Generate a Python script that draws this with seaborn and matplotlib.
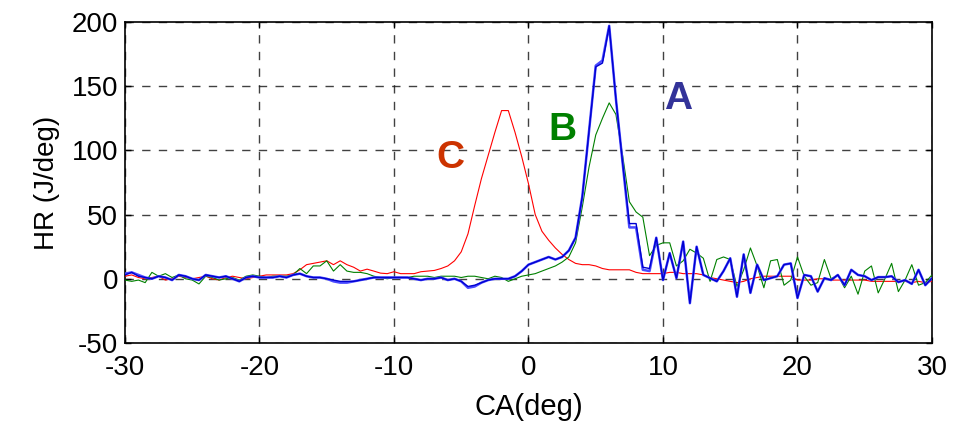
import numpy as np
import pandas as pd
import matplotlib
matplotlib.use("Agg")
import matplotlib.pyplot as plt
import seaborn as sns

# crank angle grid (deg), 0.5 deg step
ca = [-30 + 0.5 * i for i in range(121)]

hr_c = [2, 3, 1, 0, 1, 2, -1, 0, 2, 1, 0, 1, 2, 0, -1, 1, 2, 1, 0, 1, 2,
        3, 3, 3, 3, 4, 7, 11, 12, 13, 14, 11, 14, 11, 9, 6, 7.5, 6, 4.4, 4, 5.5,
        4, 4, 4, 5.5, 6, 6.5, 8, 10, 14, 21,
        35, 57, 78, 96, 114, 131, 131, 114, 95, 74,
        50, 37, 30, 24, 19, 15, 12, 11, 11, 10, 8, 7, 7, 7, 7, 5, 4, 4, 4, 4,
        5, 5, 4, 4, 4, 3, 1, 0, -1, -2, -3, -2, 0, 1, 2, 2, 2, 2, 2, -1,
        -1, -1, 0, 0, -1, -1, -1, -1, -1, -1, -2, -2, -2, -2, -2, -2, -3, -2, -3, -2]

hr_b = [-1, -2, -1, -3, 5, 2, 4, 1, 3, 0, -1, -4, 2, 1, -1, 0, 1, -1, 2, 3, 2,
        1, 2, 2, 2, 3, 8, 4, 10, 10, 14, 6, 11, 6, 5, 5, 4, 2, 1, 0, 1,
        1, 1, 2, 2, 2, 1, 2, 2, 2, 1,
        2, 2, 1, 0, 2, 1, -2, 0, 2, 3,
        4, 6, 8, 10, 13, 17, 28, 56, 87, 112, 125, 137, 128, 96, 60, 52, 48, 18, 26, 28,
        28, 10, 14, 23, 20, 16, -2, 15, 17, 15, -6, 7, 24, 10, -7, 14, 15, -5, -1, 17,
        2, -5, -3, 15, 0, 3, -7, 2, -12, 6, 10, -11, 0, 12, -10, -1, 11, -5, -3, 3]

hr_a = [3, 5, 2, 1, 0, 2, 1, -1, 3, 2, 0, -1, 3, 2, 1, 2, 0, -2, 1, 2, 1,
        1, 1, 2, 1, 3, 4, 2, 1, 1, 0, -1, -2, -2, -2, -1, 0, 1, 1, 1, 1,
        1, 1, 0, -1, 0, 0, 1, -1, 0, -2,
        -6, -5, -3, -1, 0, 0, 0, 2, 6, 11,
        13, 15, 17, 15, 17, 22, 32, 64, 115, 165, 168, 197, 140, 90, 43, 43, 9, 8, 32, -1,
        20, 0.5, 29, -19, 25, 3, 0.5, -2, 6, 16, -14, 19, -11, 11, -1, 0.5, 2, 11, 12, -15,
        3, 2, -10, 0.5, -1, 3, -5, 7, 3, 2, -1, 1.3, 1.3, 2, -2.6, -1, -4, 7, -5, 0.5]

hr_a2 = [4, 5, 3, 1, 0, 2, 1, -1, 3, 2, 0, -1, 3, 2, 1, 2, 0, -2, 1, 2, 1,
         1, 1, 2, 1, 3, 4, 2, 1, 1, 0, -2, -3, -3, -2, -1, 0, 1, 1, 1, 1,
         1, 1, 0, -1, 0, 0, 1, -1, 0, -2,
         -7, -6, -3, -1, 0, 0, 0, 2, 6, 11,
         13, 15, 17, 15, 17, 22, 32, 64, 115, 166, 170, 197, 140, 90, 40, 40, 7, 6, 32, -1,
         20, 0.5, 29, -19, 25, 3, 0.5, -2, 6, 16, -14, 19, -11, 11, -1, 0.5, 2, 11, 12, -15,
         3, 2, -10, 0.5, -1, 3, -5, 7, 3, 2, -1, 1.3, 1.3, 2, -2.6, -1, -4, 7, -5, 0.5]

x_ticks = [-30, -20, -10, 0, 10, 20, 30]
y_ticks = [-50, 0, 50, 100, 150, 200]

df = pd.DataFrame({"CA": ca * 4,
                   "HR": hr_c + hr_b + hr_a2 + hr_a,
                   "case": ["C"] * 121 + ["B"] * 121 + ["A2"] * 121 + ["A"] * 121})

sns.set_style("white")
plt.rcParams["font.family"] = ["Liberation Sans", "DejaVu Sans"]
plt.rcParams["axes.unicode_minus"] = False

fig = plt.figure(figsize=(9.63, 4.21), dpi=100)
ax = fig.add_axes([0.1298, 0.1853, 0.838, 0.7625])

palette = {"C": "#ff0000", "B": "#008000", "A2": "#4a4aff", "A": "#0000d0"}
sizes = {"C": 0.8, "B": 0.8, "A2": 1.8, "A": 1.0}
for key in ["C", "B", "A2", "A"]:
    sns.lineplot(data=df[df["case"] == key], x="CA", y="HR", color=palette[key],
                 linewidth=sizes[key], ax=ax, legend=False, zorder=3)

ax.set_xlim(-30, 30)
ax.set_ylim(-50, 200)
ax.set_xticks(x_ticks)
ax.set_yticks(y_ticks)
ax.grid(True, color="#202020", linestyle=(0, (6, 6)), linewidth=1.0, alpha=0.85)
ax.set_axisbelow(True)
for s in ax.spines.values():
    s.set_visible(True)
    s.set_color("black")
    s.set_linewidth(1.2)
ax.tick_params(direction="in", length=4, width=1, labelsize=20,
               top=True, right=True, bottom=True, left=True,
               colors="black", labelcolor="black")
ax.tick_params(axis="x", pad=9)
ax.tick_params(axis="y", pad=5)
ax.set_xlabel("CA(deg)", fontsize=21, labelpad=8, color="black")
ax.set_ylabel("HR (J/deg)", fontsize=20, labelpad=8, color="black")

ax.text(-5.8, 94, "C", color="#cc3300", fontsize=28, fontweight="bold",
        ha="center", va="center")
ax.text(2.5, 116, "B", color="#008000", fontsize=28, fontweight="bold",
        ha="center", va="center")
ax.text(11.1, 140, "A", color="#333399", fontsize=28, fontweight="bold",
        ha="center", va="center")

fig.savefig("out.png", dpi=100, facecolor="white")
